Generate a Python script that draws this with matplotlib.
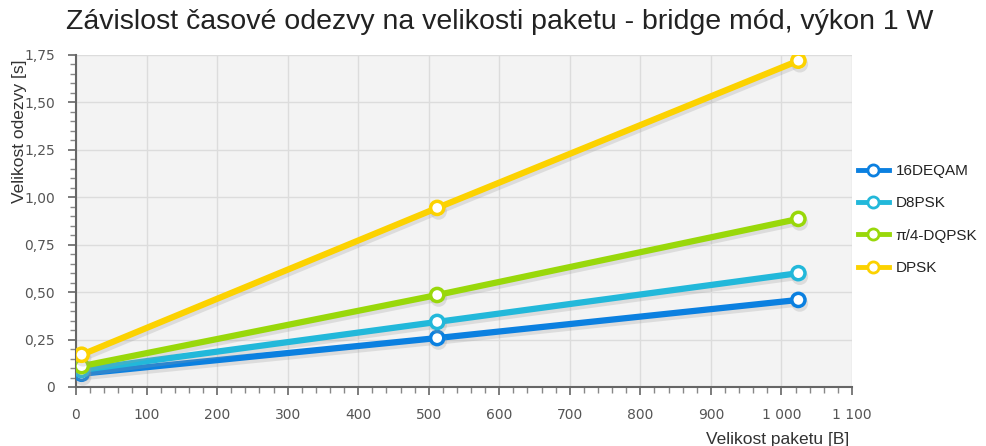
import numpy as np
import matplotlib
matplotlib.use('Agg')
from matplotlib import pyplot as plt
from matplotlib import patheffects as pe
from matplotlib.lines import Line2D
from matplotlib.ticker import FuncFormatter, MultipleLocator

# velikost paketu [B]
packet = [8, 512, 1024]

series = ['16DEQAM', 'D8PSK', 'π/4-DQPSK', 'DPSK']
t_16deqam = [0.07, 0.258, 0.459]
t_d8psk = [0.09, 0.343, 0.60]
t_dqpsk = [0.11, 0.485, 0.886]
t_dpsk = [0.17, 0.944, 1.72]
colors = ['#0b80e0', '#22b8da', '#99d80a', '#fcd200']

fig = plt.figure(figsize=(9.87, 4.46), dpi=100)
ax = fig.add_axes([76 / 987, 1 - 387 / 446, (852 - 76) / 987, (387 - 55) / 446])
ax.set_facecolor('#f3f3f3')

shadow = [pe.SimpleLineShadow(offset=(1, -2.5), shadow_color='#999999', alpha=0.25),
          pe.Normal()]
for name, vals, c in zip(series, [t_16deqam, t_d8psk, t_dqpsk, t_dpsk], colors):
    ax.plot(packet, vals, color=c, lw=4.5, marker='o', ms=9.5, mfc='white', mec=c,
            mew=2.5, label=name, path_effects=shadow, zorder=3)

ax.set_xlim(0, 1100)
ax.set_ylim(0, 1.75)
ax.xaxis.set_major_locator(MultipleLocator(100))
ax.xaxis.set_minor_locator(MultipleLocator(20))
ax.yaxis.set_major_locator(MultipleLocator(0.25))
ax.yaxis.set_minor_locator(MultipleLocator(0.05))

def fmt_x(v, pos):
    return f'{int(round(v)):,}'.replace(',', ' ')

def fmt_y(v, pos):
    if abs(v) < 1e-9:
        return '0'
    return f'{v:.2f}'.replace('.', ',')

ax.xaxis.set_major_formatter(FuncFormatter(fmt_x))
ax.yaxis.set_major_formatter(FuncFormatter(fmt_y))

ax.grid(True, which='major', color='#dcdcdc', lw=1)
ax.set_axisbelow(True)
for s in ['top', 'right']:
    ax.spines[s].set_visible(False)
for s in ['left', 'bottom']:
    ax.spines[s].set_color('#666666')
    ax.spines[s].set_linewidth(1.5)
ax.tick_params(which='major', length=6, width=1.2, color='#666666', labelsize=10,
               labelcolor='#555555', pad=9)
ax.tick_params(which='minor', length=4, width=1, color='#888888')

ax.set_ylabel('Velikost odezvy [s]', fontsize=12.5, color='#333333',
              family='Liberation Sans', loc='top')
ax.yaxis.set_label_coords(-0.063, 0.985)
ax.set_xlabel('Velikost paketu [B]', fontsize=12.5, color='#333333',
              family='Liberation Sans', loc='right')
ax.xaxis.set_label_coords(0.997, -0.135)

fig.text(0.506, 0.95, 'Závislost časové odezvy na velikosti paketu - bridge mód, výkon 1 W',
         ha='center', va='center', fontsize=20.5, color='#222222', family='Liberation Sans')

handles = [Line2D([], [], color=c, lw=3.5, marker='o', ms=8, mfc='white', mec=c, mew=2)
           for c in colors]
leg = ax.legend(handles, series, loc='upper left', bbox_to_anchor=(1.0, 0.69),
                frameon=False, prop={'family': 'Liberation Sans', 'size': 11},
                handlelength=2.0, labelspacing=1.2, handletextpad=0.45,
                borderaxespad=0.1, borderpad=0.3)
for t in leg.get_texts():
    t.set_color('#222222')

fig.savefig('out.png', dpi=100)
